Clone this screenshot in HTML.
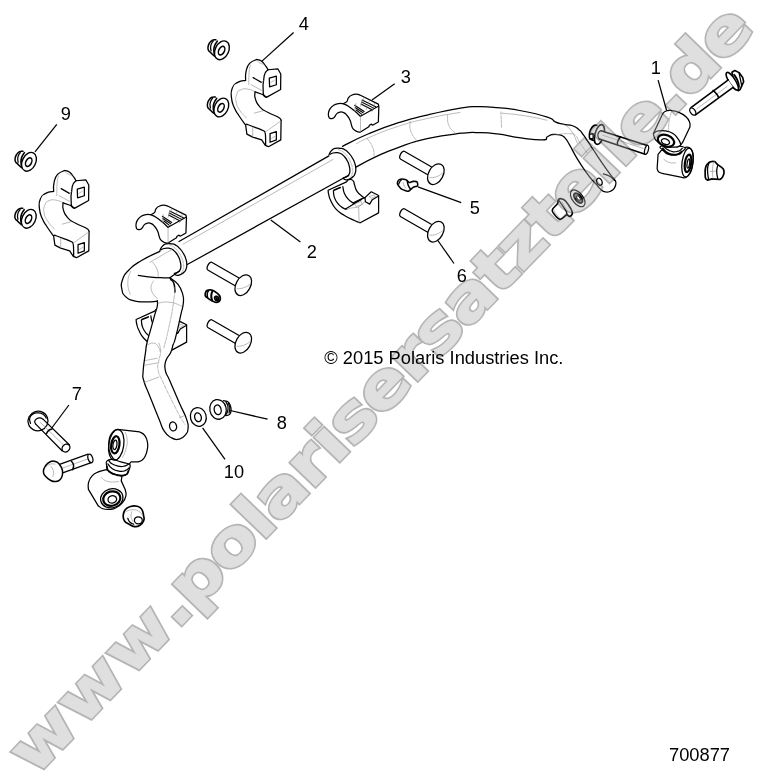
<!DOCTYPE html>
<html lang="de">
<head>
<meta charset="utf-8">
<title>700877</title>
<style>
html,body{margin:0;padding:0;background:#fff;}
body{width:761px;height:775px;overflow:hidden;position:relative;font-family:"Liberation Sans",Arial,sans-serif;}
svg{position:absolute;left:0;top:0;display:block;}
.wm{font-family:"DejaVu Sans","Liberation Sans",sans-serif;font-weight:bold;font-size:70px;fill:#adadad;stroke:#3c3c3c;stroke-width:1.6px;}
.lbl{font-family:"Liberation Sans",Arial,sans-serif;font-size:18.3px;fill:#000;}
.ld{stroke:#000;stroke-width:1.25;fill:none;}
.p{stroke:#000;stroke-width:1.25;fill:#fff;stroke-linejoin:round;stroke-linecap:round;}
.n{stroke:#000;stroke-width:1.25;fill:none;stroke-linejoin:round;stroke-linecap:round;}
.t{stroke:#8c8c8c;stroke-width:.6;fill:none;stroke-linejoin:round;stroke-linecap:round;}
</style>
</head>
<body>
<svg width="761" height="775" viewBox="0 0 761 775" style="filter:grayscale(1)">
<rect width="761" height="775" fill="#fff"/>
<!-- PARTS -->
<g id="parts">
<!-- nut -->
<path class="p" d="M23,151.3 C22.11,151.42 20.76,150.94 19.2,151.8 C17.64,152.66 17.26,153.41 16.3,155 C15.34,156.59 15.29,157.01 15.1,158.6 C14.91,160.19 14.92,160.56 15.5,161.8 C16.08,163.04 16.62,162.92 17.6,163.9 C18.58,164.88 18.79,165.14 19.7,166 C20.61,166.86 21.08,167.23 21.5,167.6" style="stroke-width:1.5"/>
<path class="n" d="M20.2,152.6 C19.51,153.95 18.53,154.19 17.9,157.1 C17.27,160.01 18.04,160.74 18.1,162.3"/>
<path class="n" d="M24.4,152.6 C23.62,153.95 22.82,154.19 21.8,157.1 C20.78,160.01 21,159.48 21,162.3 C21,165.12 21.56,165.24 21.8,166.5" style="stroke-width:1.6"/>
<path class="p" d="M35.02,164.74 A6.7,9.8 26 1 1 22.98,158.86 A6.7,9.8 26 1 1 35.02,164.74 Z" style="stroke-width:1.4"/>
<path class="p" d="M31.22,163.33 A2.8,4.6 26 1 1 26.18,160.87 A2.8,4.6 26 1 1 31.22,163.33 Z" style="stroke-width:1.5"/>
<!-- nut -->
<path class="p" d="M22.8,208.3 C21.91,208.42 20.56,207.94 19,208.8 C17.44,209.66 17.06,210.41 16.1,212 C15.14,213.59 15.09,214.01 14.9,215.6 C14.71,217.19 14.72,217.56 15.3,218.8 C15.88,220.04 16.42,219.92 17.4,220.9 C18.38,221.88 18.59,222.14 19.5,223 C20.41,223.86 20.88,224.23 21.3,224.6" style="stroke-width:1.5"/>
<path class="n" d="M20,209.6 C19.31,210.95 18.33,211.19 17.7,214.1 C17.07,217.01 17.84,217.74 17.9,219.3"/>
<path class="n" d="M24.2,209.6 C23.42,210.95 22.62,211.19 21.6,214.1 C20.58,217.01 20.8,216.48 20.8,219.3 C20.8,222.12 21.36,222.24 21.6,223.5" style="stroke-width:1.6"/>
<path class="p" d="M34.82,221.74 A6.7,9.8 26 1 1 22.78,215.86 A6.7,9.8 26 1 1 34.82,221.74 Z" style="stroke-width:1.4"/>
<path class="p" d="M31.02,220.33 A2.8,4.6 26 1 1 25.98,217.87 A2.8,4.6 26 1 1 31.02,220.33 Z" style="stroke-width:1.5"/>
<!-- clamp -->
<path class="p" d="M53.61,191.31 L54.09,182.33 L57.56,174.44 L64.65,170.5 L69.38,172.08 L73.8,177.12 L76.01,180.75 L85.94,179.96 L88.78,185.01 L88.62,200.46 L74.43,208.34 L70.64,205.51 L63.07,202.83 L63.39,209.92 L67.81,217.81 L75.69,223.32 L85.94,228.06 L89.09,231.21 L88.78,250.92 L76.48,257.7 L73.32,256.44 L69.7,250.92 L60.71,248.08 L54.88,245.09 L53.61,235.94 L47.31,227.27 L42.26,218.59 L39.42,208.34 L40.37,198.88 L45.73,193.36Z" style="stroke:none"/>
<path class="n" d="M53.61,191.31 C53.74,188.92 53.04,186.83 54.09,182.33 C55.14,177.83 54.74,177.6 57.56,174.44 C60.37,171.29 62.76,171.55 64.65,170.5"/>
<path class="n" d="M64.65,170.5 C65.91,170.92 66.94,170.31 69.38,172.08 C71.82,173.84 72.03,174.81 73.8,177.12 C75.56,179.43 75.42,179.78 76.01,180.75"/>
<path class="n" d="M76.01,180.75 L85.94,179.96 L88.78,185.01 L88.62,200.46 L74.43,208.34 L70.64,205.51"/>
<path class="n" d="M76.01,180.75 C75.25,181.92 73.17,181.85 72.22,186.58 C71.27,191.31 70.83,200.05 71.27,204.4 C71.72,208.75 73.8,207.56 74.43,208.34"/>
<path class="n" d="M70.64,205.51 L63.07,202.83"/>
<path class="n" d="M77.27,189.11 L84.36,187.06 L84.36,195.73 L77.58,197.78Z"/>
<path class="t" d="M78.84,193.36 L82.31,191.31"/>
<path class="n" d="M61.18,188.63 L69.38,193.36"/>
<path class="t" d="M69.38,193.36 L72.22,191.31"/>
<path class="t" d="M59.13,195.73 L69.38,201.25"/>
<path class="t" d="M65.44,171.29 C65.7,171.68 65.97,173 67.02,173.65 C68.07,174.31 70.96,174.97 71.75,175.23"/>
<path class="t" d="M58.34,176.02 C58.13,177.2 57.35,179.83 57.08,183.11 C56.82,186.4 56.82,193.63 56.77,195.73"/>
<path class="n" d="M53.61,191.31 C51.25,191.93 49.7,191.09 45.73,193.36 C41.76,195.63 42.26,194.39 40.37,198.88 C38.48,203.38 38.85,202.43 39.42,208.34 C39.99,214.26 39.89,212.92 42.26,218.59 C44.63,224.27 43.9,222.06 47.31,227.27 C50.71,232.47 51.72,233.34 53.61,235.94"/>
<path class="t" d="M63.07,202.83 C60.95,202.02 60.24,200.76 55.98,200.14 C51.72,199.53 52.19,199.36 48.88,200.78 C45.57,202.19 46.36,201.19 44.94,204.88 C43.52,208.57 43.21,208.01 44.15,213.07 C45.1,218.14 45.02,217.02 48.09,221.75 C51.17,226.48 52.51,226.71 54.4,228.84"/>
<path class="n" d="M63.07,202.83 C63.17,204.95 61.97,205.43 63.39,209.92 C64.81,214.42 64.12,213.78 67.81,217.81 C71.5,221.83 70.25,220.25 75.69,223.32 C81.13,226.4 81.92,225.69 85.94,228.06 C89.96,230.42 88.15,230.26 89.09,231.21"/>
<path class="n" d="M53.61,235.94 L54.88,245.09 L60.71,248.08 L69.7,250.92 L73.32,256.44 L76.48,257.7 L88.78,250.92 L89.09,231.21"/>
<path class="n" d="M54.4,235.15 C56.14,235.78 59.76,237.04 63.07,238.3 C66.39,239.57 68.91,240.2 70.96,241.46 C73.01,242.72 72.79,241.62 73.32,244.61 C73.86,247.61 73.58,254.07 73.64,256.44"/>
<path class="t" d="M73.32,243.04 L88.78,232"/>
<path class="t" d="M60.71,238.3 L60.71,247.77"/>
<path class="n" d="M78.06,244.61 L84.36,242.56 L84.36,250.92 L78.06,253.29Z"/>
<path class="t" d="M79.63,249.34 L82.79,247.45"/>
<path class="t" d="M62.29,224.11 L70.96,221.75"/>
<!-- nut -->
<path class="p" d="M215.9,39.8 C215.01,39.92 213.66,39.44 212.1,40.3 C210.54,41.16 210.16,41.91 209.2,43.5 C208.24,45.09 208.19,45.51 208,47.1 C207.81,48.69 207.82,49.06 208.4,50.3 C208.98,51.54 209.52,51.42 210.5,52.4 C211.48,53.38 211.69,53.64 212.6,54.5 C213.51,55.36 213.98,55.73 214.4,56.1" style="stroke-width:1.5"/>
<path class="n" d="M213.1,41.1 C212.41,42.45 211.43,42.69 210.8,45.6 C210.17,48.51 210.94,49.24 211,50.8"/>
<path class="n" d="M217.3,41.1 C216.52,42.45 215.72,42.69 214.7,45.6 C213.68,48.51 213.9,47.98 213.9,50.8 C213.9,53.62 214.46,53.74 214.7,55" style="stroke-width:1.6"/>
<path class="p" d="M227.92,53.24 A6.7,9.8 26 1 1 215.88,47.36 A6.7,9.8 26 1 1 227.92,53.24 Z" style="stroke-width:1.4"/>
<path class="p" d="M224.12,51.83 A2.8,4.6 26 1 1 219.08,49.37 A2.8,4.6 26 1 1 224.12,51.83 Z" style="stroke-width:1.5"/>
<!-- nut -->
<path class="p" d="M215.3,97 C214.41,97.12 213.06,96.64 211.5,97.5 C209.94,98.36 209.56,99.11 208.6,100.7 C207.64,102.29 207.59,102.71 207.4,104.3 C207.21,105.89 207.22,106.26 207.8,107.5 C208.38,108.74 208.92,108.62 209.9,109.6 C210.88,110.58 211.09,110.84 212,111.7 C212.91,112.56 213.38,112.93 213.8,113.3" style="stroke-width:1.5"/>
<path class="n" d="M212.5,98.3 C211.81,99.65 210.83,99.89 210.2,102.8 C209.57,105.71 210.34,106.44 210.4,108"/>
<path class="n" d="M216.7,98.3 C215.92,99.65 215.12,99.89 214.1,102.8 C213.08,105.71 213.3,105.18 213.3,108 C213.3,110.82 213.86,110.94 214.1,112.2" style="stroke-width:1.6"/>
<path class="p" d="M227.32,110.44 A6.7,9.8 26 1 1 215.28,104.56 A6.7,9.8 26 1 1 227.32,110.44 Z" style="stroke-width:1.4"/>
<path class="p" d="M223.52,109.03 A2.8,4.6 26 1 1 218.48,106.57 A2.8,4.6 26 1 1 223.52,109.03 Z" style="stroke-width:1.5"/>
<!-- clamp -->
<path class="p" d="M245.61,80.31 L246.09,71.33 L249.56,63.44 L256.65,59.5 L261.38,61.08 L265.8,66.12 L268.01,69.75 L277.94,68.96 L280.78,74.01 L280.62,89.46 L266.43,97.34 L262.64,94.51 L255.07,91.83 L255.39,98.92 L259.81,106.81 L267.69,112.32 L277.94,117.06 L281.09,120.21 L280.78,139.92 L268.48,146.7 L265.32,145.44 L261.7,139.92 L252.71,137.08 L246.88,134.09 L245.61,124.94 L239.31,116.27 L234.26,107.59 L231.42,97.34 L232.37,87.88 L237.73,82.36Z" style="stroke:none"/>
<path class="n" d="M245.61,80.31 C245.74,77.92 245.04,75.83 246.09,71.33 C247.14,66.83 246.74,66.6 249.56,63.44 C252.37,60.29 254.76,60.55 256.65,59.5"/>
<path class="n" d="M256.65,59.5 C257.91,59.92 258.94,59.31 261.38,61.08 C263.82,62.84 264.03,63.81 265.8,66.12 C267.56,68.43 267.42,68.78 268.01,69.75"/>
<path class="n" d="M268.01,69.75 L277.94,68.96 L280.78,74.01 L280.62,89.46 L266.43,97.34 L262.64,94.51"/>
<path class="n" d="M268.01,69.75 C267.25,70.92 265.17,70.85 264.22,75.58 C263.27,80.31 262.83,89.05 263.27,93.4 C263.72,97.75 265.8,96.56 266.43,97.34"/>
<path class="n" d="M262.64,94.51 L255.07,91.83"/>
<path class="n" d="M269.27,78.11 L276.36,76.06 L276.36,84.73 L269.58,86.78Z"/>
<path class="t" d="M270.84,82.36 L274.31,80.31"/>
<path class="n" d="M253.18,77.63 L261.38,82.36"/>
<path class="t" d="M261.38,82.36 L264.22,80.31"/>
<path class="t" d="M251.13,84.73 L261.38,90.25"/>
<path class="t" d="M257.44,60.29 C257.7,60.68 257.97,62 259.02,62.65 C260.07,63.31 262.96,63.97 263.75,64.23"/>
<path class="t" d="M250.34,65.02 C250.13,66.2 249.35,68.83 249.08,72.11 C248.82,75.4 248.82,82.63 248.77,84.73"/>
<path class="n" d="M245.61,80.31 C243.25,80.93 241.7,80.09 237.73,82.36 C233.76,84.63 234.26,83.39 232.37,87.88 C230.48,92.38 230.85,91.43 231.42,97.34 C231.99,103.26 231.89,101.92 234.26,107.59 C236.63,113.27 235.9,111.06 239.31,116.27 C242.71,121.47 243.72,122.34 245.61,124.94"/>
<path class="t" d="M255.07,91.83 C252.95,91.02 252.24,89.76 247.98,89.14 C243.72,88.53 244.19,88.36 240.88,89.78 C237.57,91.19 238.36,90.19 236.94,93.88 C235.52,97.57 235.21,97.01 236.15,102.07 C237.1,107.14 237.02,106.02 240.09,110.75 C243.17,115.48 244.51,115.71 246.4,117.84"/>
<path class="n" d="M255.07,91.83 C255.17,93.95 253.97,94.43 255.39,98.92 C256.81,103.42 256.12,102.78 259.81,106.81 C263.5,110.83 262.25,109.25 267.69,112.32 C273.13,115.4 273.92,114.69 277.94,117.06 C281.96,119.42 280.15,119.26 281.09,120.21"/>
<path class="n" d="M245.61,124.94 L246.88,134.09 L252.71,137.08 L261.7,139.92 L265.32,145.44 L268.48,146.7 L280.78,139.92 L281.09,120.21"/>
<path class="n" d="M246.4,124.15 C248.14,124.78 251.76,126.04 255.07,127.3 C258.39,128.57 260.91,129.2 262.96,130.46 C265.01,131.72 264.79,130.62 265.32,133.61 C265.86,136.61 265.58,143.07 265.64,145.44"/>
<path class="t" d="M265.32,132.04 L280.78,121"/>
<path class="t" d="M252.71,127.3 L252.71,136.77"/>
<path class="n" d="M270.06,133.61 L276.36,131.56 L276.36,139.92 L270.06,142.29Z"/>
<path class="t" d="M271.63,138.34 L274.79,136.45"/>
<path class="t" d="M254.29,113.11 L262.96,110.75"/>
<!-- bushing lower -->
<path class="p" d="M136.14,319.53 L154.54,311.12 C155.1,310.56 155.24,309.58 156.64,309.02 C158.04,308.46 158.39,308.46 159.79,309.02 C161.2,309.58 161.34,310.56 161.9,311.12 C162.12,312.1 161.9,312.28 162.74,314.8 C163.58,317.32 163.03,317.64 165.05,320.58 C167.07,323.52 168.2,324.16 170.31,325.84 C172.41,327.52 172.23,326.61 172.93,326.89 L179.24,321.11 L186.6,324.79 L186.6,342.13 L168.2,352.12 C166.8,351.56 167.15,351.98 162.95,350.02 C158.74,348.05 157.48,347.84 152.43,344.76 C147.39,341.68 147.67,342.38 144.02,338.45 C140.38,334.53 140.73,333.97 138.77,330.04 C136.81,326.12 137.37,326.54 136.67,323.73 C135.97,320.93 136.28,320.65 136.14,319.53Z"/>
<path class="n" d="M141.4,320.06 C141.68,321.88 141.19,323.38 142.45,326.89 C143.71,330.39 143.74,330.39 146.13,333.2 C148.51,336 149.14,336 151.38,337.4 C153.63,338.8 153.7,338.17 154.54,338.45"/>
<path class="n" d="M150.86,315.85 C151.28,317.67 150.89,319.18 152.43,322.68 C153.98,326.19 154.12,326.33 156.64,328.99 C159.16,331.65 160.49,331.69 161.9,332.67"/>
<path class="n" d="M153.49,338.24 L159.27,334.77 L170.31,327.94 L172.93,326.89"/>
<path class="t" d="M154.54,338.98 L158.74,337.4 L166.63,336.35 L172.93,331.09"/>
<path class="t" d="M166.63,336.35 L167.15,351.07"/>
<path class="n" d="M172.93,326.89 L173.46,331.09 L177.66,333.41 L180.29,328.99 L186.6,325.31"/>
<path class="t" d="M177.66,325.84 L181.87,324.26 L183.45,325.84 L179.77,327.41Z"/>
<path class="t" d="M162.95,333.2 L169.25,330.57 L170.31,333.72 L164.52,335.82Z"/>
<path class="n" d="M141.92,319.53 L148.23,316.9" style="stroke-width:1.6"/>
<path class="n" d="M161.9,332.14 L169.25,328.47" style="stroke-width:1.6"/>
<!-- bar -->
<path class="p" d="M342.52,146.32 C346.47,137.12 354.15,139.82 369.13,133.51 C384.11,127.2 382.93,127.66 398.7,122.67 C414.47,117.67 411.43,118.72 428.27,114.78 C445.1,110.85 448.46,110.06 461.83,107.91 C475.19,105.76 468.92,106.79 478.38,106.73 C487.84,106.66 485.95,106.6 497.31,107.67 C508.66,108.75 507.62,108.24 520.96,110.75 C534.3,113.26 538.21,114.14 547.35,117.1 C556.48,120.05 551.02,119.93 555.23,121.83 C559.43,123.72 558.49,123.14 563.11,124.19 C567.74,125.24 568.37,124.3 572.58,125.77 C576.78,127.24 575.94,127.19 578.88,129.71 C581.83,132.23 579.83,129.97 583.61,135.23 C587.4,140.49 588.03,141.85 593.07,149.42 C598.12,156.99 597.91,156.89 602.54,163.61 C607.16,170.34 607.27,170.45 610.42,174.65 C613.57,178.86 612.89,177.07 614.36,179.38 C615.83,181.7 615.94,181.01 615.94,183.32 C615.94,185.64 615.83,185.95 614.36,188.06 C612.89,190.16 612.73,190.16 610.42,191.21 C608.11,192.26 608.21,192.42 605.69,192 C603.17,191.58 603.48,191.73 600.96,189.63 C598.44,187.53 597.49,185.58 596.23,184.11 C594.97,182.64 597.07,184.95 596.23,184.11 C595.39,183.27 595.6,183.9 593.07,180.96 C590.55,178.02 590.97,178.96 586.77,173.07 C582.56,167.19 581.93,166.45 577.31,158.88 C572.68,151.31 572.79,150.37 569.42,144.69 C566.06,139.01 567.21,140.2 564.69,137.6 C562.17,134.99 563.11,135.76 559.96,134.91 C556.81,134.07 556.23,133.94 552.86,134.44 C549.5,134.95 550.08,135.34 547.35,136.81 C544.61,138.28 549.65,139.66 542.61,139.96 C535.58,140.27 533.04,139.56 520.96,137.95 C508.88,136.34 508.66,135.38 497.31,133.93 C485.95,132.48 487.84,132.7 478.38,132.51 C468.92,132.32 475.19,131.64 461.83,133.22 C448.46,134.8 445.1,134.68 428.27,138.44 C411.43,142.19 412.89,142.31 398.7,147.31 C384.51,152.3 386.87,151.64 375.05,157.16 C363.22,162.68 363.02,170.89 354.35,168 C345.68,165.11 338.58,155.52 342.52,146.32Z" style="stroke:none"/>
<path class="n" d="M342.52,146.32 C349.62,142.9 354.15,139.82 369.13,133.51 C384.11,127.2 382.93,127.66 398.7,122.67 C414.47,117.67 411.43,118.72 428.27,114.78 C445.1,110.85 448.46,110.06 461.83,107.91 C475.19,105.76 468.92,106.79 478.38,106.73 C487.84,106.66 485.95,106.6 497.31,107.67 C508.66,108.75 507.62,108.24 520.96,110.75 C534.3,113.26 538.21,114.14 547.35,117.1 C556.48,120.05 551.02,119.93 555.23,121.83 C559.43,123.72 558.49,123.14 563.11,124.19 C567.74,125.24 568.37,124.3 572.58,125.77 C576.78,127.24 575.94,127.19 578.88,129.71 C581.83,132.23 579.83,129.97 583.61,135.23 C587.4,140.49 588.03,141.85 593.07,149.42 C598.12,156.99 597.91,156.89 602.54,163.61 C607.16,170.34 607.27,170.45 610.42,174.65 C613.57,178.86 612.89,177.07 614.36,179.38 C615.83,181.7 615.94,181.01 615.94,183.32 C615.94,185.64 615.83,185.95 614.36,188.06 C612.89,190.16 612.73,190.16 610.42,191.21 C608.11,192.26 608.21,192.42 605.69,192 C603.17,191.58 603.48,191.73 600.96,189.63 C598.44,187.53 597.49,185.58 596.23,184.11"/>
<path class="n" d="M354.35,168 C359.87,165.11 363.22,162.68 375.05,157.16 C386.87,151.64 384.51,152.3 398.7,147.31 C412.89,142.31 411.43,142.19 428.27,138.44 C445.1,134.68 448.46,134.8 461.83,133.22 C475.19,131.64 468.92,132.32 478.38,132.51 C487.84,132.7 485.95,132.48 497.31,133.93 C508.66,135.38 508.88,136.34 520.96,137.95 C533.04,139.56 535.58,140.27 542.61,139.96 C549.65,139.66 544.61,138.28 547.35,136.81 C550.08,135.34 549.5,134.95 552.86,134.44 C556.23,133.94 556.81,134.07 559.96,134.91 C563.11,135.76 562.17,134.99 564.69,137.6 C567.21,140.2 566.06,139.01 569.42,144.69 C572.79,150.37 572.68,151.31 577.31,158.88 C581.93,166.45 582.56,167.19 586.77,173.07 C590.97,178.96 590.55,178.02 593.07,180.96 C595.6,183.9 595.39,183.27 596.23,184.11"/>
<path class="p" d="M601.83,180.86 A2.6,3.7 -20 1 1 596.94,182.64 A2.6,3.7 -20 1 1 601.83,180.86 Z"/>
<path class="t" d="M356.32,143.76 C360.16,141.87 356.42,142.71 369.13,137.45 C381.85,132.19 380.96,131.95 398.7,126.22 C416.44,120.48 409.88,122.47 428.27,118.33 C446.66,114.19 450.48,114.19 460,112.42"/>
<path class="t" d="M367.16,138.44 C368.82,141.1 370.61,141.98 372.68,147.31 C374.75,152.63 373.65,153.52 374.06,156.18" stroke-dasharray="3 1.2"/>
<path class="t" d="M410.13,121.29 C410.37,124.36 408.73,125.39 410.92,131.54 C413.11,137.69 415.47,138.71 417.42,141.79" stroke-dasharray="3 1.2"/>
<path class="t" d="M447.58,115.37 C448,118.45 446.6,120.3 448.96,125.62 C451.33,130.95 453.52,130.87 455.47,133.11" stroke-dasharray="3 1.2"/>
<path class="t" d="M500.85,111.93 L501.56,127.31" stroke-dasharray="3 1.2"/>
<path class="t" d="M502.04,113.11 C509.13,113.97 512.21,113.82 525.69,115.95 C539.17,118.08 540.59,118.93 546.98,120.21"/>
<path class="t" d="M552.08,135.23 C557.28,134.76 562.33,133.42 569.42,133.65 C576.52,133.89 572.8,133.65 575.73,136.02 C578.66,138.38 575.89,136.57 579.2,141.54 C582.51,146.5 584.5,149.26 586.77,152.58" stroke-dasharray="3 1.2"/>
<path class="n" d="M603.32,173.86 C605.22,174.57 606.18,174.24 609.63,176.23 C613.09,178.22 613.27,179.21 614.84,180.49"/>
<path class="t" d="M563.11,124.19 C565.48,126.08 566.74,124.82 571,130.5 C575.26,136.18 575.41,139.33 577.31,143.11"/>
<path class="p" d="M328.86,155.85 C324.81,148.36 328.86,154.67 329.84,152.9 C330.83,151.12 330.47,151.32 332.14,149.94 C333.82,148.56 333.06,148.79 335.43,148.3 C337.79,147.8 337.27,147.9 340.02,148.3 C342.78,148.69 342.06,148.23 344.62,149.61 C347.19,150.99 346.2,150.33 348.57,152.9 C350.93,155.46 350.64,155 352.51,158.15 C354.38,161.31 353.82,160.26 354.81,163.41 C355.79,166.56 355.7,165.71 355.79,168.67 C355.89,171.62 355.93,170.9 355.14,173.26 C354.35,175.63 354.74,174.87 353.17,176.55 C351.59,178.23 351.85,177.86 349.88,178.85 C347.91,179.84 348.27,179.74 346.6,179.84 C344.92,179.93 345.28,179.77 344.3,179.18 C343.31,178.59 347.94,184.86 343.31,177.86 C338.68,170.87 332.9,163.34 328.86,155.85Z" style="stroke:none"/>
<path class="n" d="M328.86,155.85 C329.15,154.97 328.86,154.67 329.84,152.9 C330.83,151.12 330.47,151.32 332.14,149.94 C333.82,148.56 333.06,148.79 335.43,148.3 C337.79,147.8 337.27,147.9 340.02,148.3 C342.78,148.69 342.06,148.23 344.62,149.61 C347.19,150.99 346.2,150.33 348.57,152.9 C350.93,155.46 350.64,155 352.51,158.15 C354.38,161.31 353.82,160.26 354.81,163.41 C355.79,166.56 355.7,165.71 355.79,168.67 C355.89,171.62 355.93,170.9 355.14,173.26 C354.35,175.63 354.74,174.87 353.17,176.55 C351.59,178.23 351.85,177.86 349.88,178.85 C347.91,179.84 348.27,179.74 346.6,179.84 C344.92,179.93 345.28,179.77 344.3,179.18 C343.31,178.59 343.61,178.26 343.31,177.86"/>
<path class="t" d="M338.05,149.28 C339.43,149.97 339.89,149.51 342.65,151.58 C345.41,153.65 344.89,153.03 347.25,156.18 C349.62,159.34 348.96,158.35 350.54,162.1 C352.11,165.84 352.02,165.12 352.51,168.67 C353,172.21 352.77,171.36 352.18,173.92 C351.59,176.48 351.03,176.22 350.54,177.21" stroke-dasharray="3 1.2"/>
<path class="p" d="M179,241.5 L329.84,154.54 L332.14,153.23 L336.08,152.57 L340.02,153.23 L343.97,156.18 L347.25,160.78 L349.22,166.04 L349.88,171.29 L348.89,174.58 L347.25,176.55 L343.31,177.86 L186.8,264.8Z" style="stroke:none"/>
<path class="n" d="M179,241.5 L328.9,155.9"/>
<path class="n" d="M348.6,175.2 L186.8,264.8"/>
<path class="n" d="M329.84,154.54 C330.53,154.15 330.27,153.82 332.14,153.23 C334.01,152.63 333.72,152.57 336.08,152.57 C338.45,152.57 337.66,152.14 340.02,153.23 C342.39,154.31 341.8,153.92 343.97,156.18 C346.14,158.45 345.68,157.82 347.25,160.78 C348.83,163.74 348.43,162.88 349.22,166.04 C350.01,169.19 349.98,168.73 349.88,171.29 C349.78,173.86 349.68,173 348.89,174.58 C348.11,176.16 348.93,175.56 347.25,176.55 C345.58,177.54 344.49,177.47 343.31,177.86"/>
<path class="t" d="M183,244.2 L333,159.5"/>
<path class="p" d="M159.86,251.35 C155.81,243.86 159.86,250.17 160.84,248.4 C161.83,246.62 161.47,246.82 163.14,245.44 C164.82,244.06 164.06,244.29 166.43,243.8 C168.79,243.3 168.27,243.4 171.02,243.8 C173.78,244.19 173.06,243.73 175.62,245.11 C178.19,246.49 177.2,245.83 179.57,248.4 C181.93,250.96 181.64,250.5 183.51,253.65 C185.38,256.81 184.82,255.76 185.81,258.91 C186.79,262.06 186.7,261.21 186.79,264.17 C186.89,267.12 186.93,266.4 186.14,268.76 C185.35,271.13 185.74,270.37 184.17,272.05 C182.59,273.73 182.85,273.36 180.88,274.35 C178.91,275.34 179.27,275.24 177.6,275.34 C175.92,275.43 176.28,275.27 175.3,274.68 C174.31,274.09 178.94,280.36 174.31,273.36 C169.68,266.37 163.9,258.84 159.86,251.35Z" style="stroke:none"/>
<path class="n" d="M159.86,251.35 C160.15,250.47 159.86,250.17 160.84,248.4 C161.83,246.62 161.47,246.82 163.14,245.44 C164.82,244.06 164.06,244.29 166.43,243.8 C168.79,243.3 168.27,243.4 171.02,243.8 C173.78,244.19 173.06,243.73 175.62,245.11 C178.19,246.49 177.2,245.83 179.57,248.4 C181.93,250.96 181.64,250.5 183.51,253.65 C185.38,256.81 184.82,255.76 185.81,258.91 C186.79,262.06 186.7,261.21 186.79,264.17 C186.89,267.12 186.93,266.4 186.14,268.76 C185.35,271.13 185.74,270.37 184.17,272.05 C182.59,273.73 182.85,273.36 180.88,274.35 C178.91,275.34 179.27,275.24 177.6,275.34 C175.92,275.43 176.28,275.27 175.3,274.68 C174.31,274.09 174.61,273.76 174.31,273.36"/>
<path class="t" d="M169.05,244.78 C170.43,245.47 170.89,245.01 173.65,247.08 C176.41,249.15 175.89,248.53 178.25,251.68 C180.62,254.84 179.96,253.85 181.54,257.6 C183.11,261.34 183.02,260.62 183.51,264.17 C184,267.71 183.77,266.86 183.18,269.42 C182.59,271.98 182.03,271.72 181.54,272.71" stroke-dasharray="3 1.2"/>
<path class="p" d="M159.83,251.35 L141.54,260.5 L128.92,269.96 L122.61,279.42 L121.83,288.88 L125.77,296.77 L133.65,300.71 L144.69,301.97 L157.31,301.18 L169.92,277.84 L174.31,273.36 L178.25,272.05 L179.89,270.08 L180.88,266.79 L180.22,261.54 L178.25,256.28 L174.97,251.68 L171.02,248.73 L167.08,248.07 L163.14,248.73 L160.84,250.04Z" style="stroke:none"/>
<path class="p" d="M157.31,300.71 C153.94,308.28 157.94,302.65 157.31,306.23 C156.68,309.8 156.62,308.23 154.94,314.11 C153.26,320 153.1,320.74 151,328.3 C148.9,335.87 148.53,336.01 147.06,342.5 C145.58,348.98 146.53,344.87 145.48,352.61 C144.43,360.36 143.53,363.97 143.11,371.54 C142.69,379.11 142.22,374.69 143.9,381 C145.58,387.31 145.43,385.1 149.42,395.19 C153.42,405.28 154.89,409.17 158.88,418.84 C162.88,428.52 161.04,426.41 164.4,431.46 C167.77,436.5 167.5,435.75 171.5,437.77 C175.49,439.78 175.6,439.87 179.38,439.03 C183.17,438.19 183.38,437.47 185.69,434.61 C188,431.75 187.84,432.51 188.06,428.3 C188.27,424.1 188.79,425.57 186.48,418.84 C184.17,412.12 183.8,413.17 179.38,403.07 C174.97,392.98 173.71,389.83 169.92,381 C166.14,372.17 166.24,375.43 165.19,369.96 C164.14,364.49 164.51,365.12 165.98,360.5 C167.45,355.87 168.82,356.82 170.71,352.61 C172.6,348.41 172.02,347.85 173.07,344.73 C174.13,341.61 173.39,345.3 174.65,340.92 C175.91,336.54 176.12,335.45 177.81,328.3 C179.49,321.16 179.49,320.84 180.96,314.11 C182.43,307.39 182.9,308.54 183.32,303.07 C183.75,297.61 184.01,298.66 182.54,293.61 C181.06,288.57 181.17,288.36 177.81,284.15 C174.44,279.95 175.39,273.43 169.92,277.84 C164.45,282.26 160.67,293.14 157.31,300.71Z" style="stroke:none"/>
<path class="n" d="M159.83,251.35 C154.34,254.1 150.81,254.92 141.54,260.5 C132.27,266.08 134.6,264.28 128.92,269.96 C123.25,275.64 124.74,273.75 122.61,279.42 C120.49,285.1 120.88,283.68 121.83,288.88 C122.77,294.09 122.22,293.22 125.77,296.77 C129.32,300.32 127.98,299.15 133.65,300.71 C139.33,302.27 137.6,301.83 144.69,301.97 C151.79,302.11 153.52,301.42 157.31,301.18"/>
<path class="n" d="M160.84,250.04 C161.53,249.65 161.27,249.32 163.14,248.73 C165.01,248.13 164.72,248.07 167.08,248.07 C169.45,248.07 168.66,247.64 171.02,248.73 C173.39,249.81 172.8,249.42 174.97,251.68 C177.14,253.95 176.68,253.32 178.25,256.28 C179.83,259.24 179.43,258.38 180.22,261.54 C181.01,264.69 180.98,264.23 180.88,266.79 C180.78,269.36 180.68,268.5 179.89,270.08 C179.11,271.66 179.93,271.06 178.25,272.05 C176.58,273.04 175.49,272.97 174.31,273.36"/>
<path class="n" d="M157.31,300.71 C157.31,302.18 157.94,302.65 157.31,306.23 C156.68,309.8 156.62,308.23 154.94,314.11 C153.26,320 153.1,320.74 151,328.3 C148.9,335.87 148.53,336.01 147.06,342.5 C145.58,348.98 146.53,344.87 145.48,352.61 C144.43,360.36 143.53,363.97 143.11,371.54 C142.69,379.11 142.22,374.69 143.9,381 C145.58,387.31 145.43,385.1 149.42,395.19 C153.42,405.28 154.89,409.17 158.88,418.84 C162.88,428.52 161.04,426.41 164.4,431.46 C167.77,436.5 167.5,435.75 171.5,437.77 C175.49,439.78 175.6,439.87 179.38,439.03 C183.17,438.19 183.38,437.47 185.69,434.61 C188,431.75 187.84,432.51 188.06,428.3 C188.27,424.1 188.79,425.57 186.48,418.84 C184.17,412.12 183.8,413.17 179.38,403.07 C174.97,392.98 173.71,389.83 169.92,381 C166.14,372.17 166.24,375.43 165.19,369.96 C164.14,364.49 164.51,365.12 165.98,360.5 C167.45,355.87 168.82,356.82 170.71,352.61 C172.6,348.41 172.02,347.85 173.07,344.73 C174.13,341.61 173.39,345.3 174.65,340.92 C175.91,336.54 176.12,335.45 177.81,328.3 C179.49,321.16 179.49,320.84 180.96,314.11 C182.43,307.39 182.9,308.54 183.32,303.07 C183.75,297.61 184.01,298.66 182.54,293.61 C181.06,288.57 181.17,288.36 177.81,284.15 C174.44,279.95 172.02,279.53 169.92,277.84"/>
<path class="n" d="M138.38,275.48 C141.75,275.9 144.27,276.43 151,277.06 C157.73,277.69 158.57,277.63 163.61,277.84 C168.66,278.06 168.24,277.84 169.92,277.84"/>
<path class="n" d="M169.92,277.84 L179.57,270.74"/>
<path class="n" d="M170.71,279.42 C171.55,280.47 172.73,280 173.86,283.36 C175,286.73 174.67,289.72 174.97,292.04" style="stroke-width:1.5"/>
<path class="t" d="M150,262.19 L171.68,249.71"/>
<path class="t" d="M130.5,271.54 C129.7,274.85 127.91,275.72 127.82,282.58 C127.72,289.43 129.47,290.85 130.18,294.4"/>
<path class="t" d="M153.36,281 C152.75,283.6 150.13,284.37 151.31,289.67 C152.5,294.97 155.51,295.96 157.31,298.66"/>
<path class="t" d="M152.58,262.08 C153.99,264.44 155.65,265.47 157.31,269.96 C158.96,274.45 157.86,274.93 158.09,277.06"/>
<path class="t" d="M174.65,287.31 C174.27,292.04 175.19,290.78 173.39,303.07 C171.59,315.37 171.59,314.59 168.66,328.3 C165.73,342.02 165.13,342.65 163.61,348.8" stroke-dasharray="3 1.2"/>
<path class="t" d="M158.09,303.07 C161.64,302.84 162.83,301.34 169.92,302.29 C177.02,303.23 178.2,305.05 181.75,306.23"/>
<path class="t" d="M145.48,360.5 L157.31,358.13"/>
<path class="t" d="M144.69,365.23 L158.09,362.86"/>
<path class="t" d="M143.9,382.58 L158.88,377.06"/>
<path class="t" d="M158.88,343.15 C159.39,345.26 160.78,346.41 160.78,351.04 C160.78,355.66 159.6,355.45 158.88,360.5 C158.17,365.55 157.04,364.28 158.09,369.96 C159.15,375.64 158.83,372.96 162.83,381.79 C166.82,390.62 168.24,393.4 173.07,403.07 C177.91,412.75 177.81,412.38 180.96,418.06 C184.11,423.73 183.85,422.68 184.9,424.36" stroke-dasharray="4 1.5"/>
<path class="t" d="M179.38,417.58 L184.43,415.69"/>
<path class="t" d="M147.84,344.73 C149.5,344.26 150.29,342.68 153.36,343.15 C156.44,343.63 156.06,343.71 158.09,346.31 C160.13,348.91 159.53,350.17 160.14,351.83"/>
<path class="p" d="M176.46,425.51 A3.5,4.5 -15 1 1 169.69,427.32 A3.5,4.5 -15 1 1 176.46,425.51 Z"/>
<!-- bushing upper -->
<path class="p" d="M328.94,117.32 C328.8,116.34 328.13,115.88 328.41,113.64 C328.69,111.4 328.59,111.15 329.99,108.91 C331.39,106.67 331.42,106.63 333.67,105.23 C335.91,103.83 335.87,104.07 338.4,103.65 C340.92,103.23 341.87,103.65 343.13,103.65 C344.11,103.09 345.41,103.09 346.81,101.55 C348.21,100.01 347.12,99.55 348.38,97.87 C349.65,96.19 349.43,96.22 351.54,95.24 C353.64,94.26 353.89,94.19 356.27,94.19 C358.65,94.19 359.35,94.96 360.47,95.24 L378.34,104.18 L378.87,106.28 L378.34,122.05 L372.56,125.2 L371.51,124.15 L369.41,125.2 L368.88,126.78 L360.47,132.04 C359.49,131.9 358.76,132.35 356.79,131.51 C354.83,130.67 354.52,130.57 353.11,128.88 C351.71,127.2 352.38,127.59 351.54,125.2 C350.7,122.82 351.22,122.61 349.96,119.95 C348.7,117.28 348.49,117.18 346.81,115.22 C345.12,113.25 345.48,113.43 343.65,112.59 C341.83,111.75 341.8,111.78 339.97,112.06 C338.15,112.34 338.22,112.38 336.82,113.64 C335.42,114.9 335.84,115.53 334.72,116.79 C333.6,118.06 333.88,117.95 332.61,118.37 C331.35,118.79 330.97,118.65 329.99,118.37 C329.01,118.09 329.22,117.6 328.94,117.32Z"/>
<path class="n" d="M343.13,103.65 C344.18,104.18 346.07,104.81 348.38,106.28 C350.7,107.75 352.27,109.01 354.69,111.01 C357.11,113.01 359.32,115.22 360.47,116.27"/>
<path class="n" d="M360.47,116.27 L378.34,106.28"/>
<path class="t" d="M360.47,116.27 L360.47,132.04"/>
<path class="n" d="M362.05,99.97 L375.72,106.81" style="stroke-width:1.1"/>
<path class="n" d="M361.52,102.08 L374.14,108.38" style="stroke-width:1.1"/>
<path class="n" d="M361,103.97 L372.56,109.96" style="stroke-width:1.1"/>
<path class="n" d="M354.69,105.23 L364.15,111.54" style="stroke-width:1.1"/>
<path class="n" d="M355.22,107.54 L363.1,112.8" style="stroke-width:1.1"/>
<path class="n" d="M356.27,109.96 L361.52,114.17" style="stroke-width:1.1"/>
<path class="t" d="M364.15,97.87 L360.47,106.28"/>
<path class="t" d="M369.41,100.5 L366.25,109.43"/>
<path class="t" d="M374.66,103.13 L372.04,111.54"/>
<path class="t" d="M355.74,103.65 L354.69,111.54"/>
<!-- bushing upper -->
<path class="p" d="M136.54,228.32 C136.4,227.34 135.73,226.88 136.01,224.64 C136.29,222.4 136.19,222.15 137.59,219.91 C138.99,217.67 139.02,217.63 141.27,216.23 C143.51,214.83 143.47,215.07 146,214.65 C148.52,214.23 149.47,214.65 150.73,214.65 C151.71,214.09 153.01,214.09 154.41,212.55 C155.81,211.01 154.72,210.55 155.98,208.87 C157.25,207.19 157.03,207.22 159.14,206.24 C161.24,205.26 161.49,205.19 163.87,205.19 C166.25,205.19 166.95,205.96 168.07,206.24 L185.94,215.18 L186.47,217.28 L185.94,233.05 L180.16,236.2 L179.11,235.15 L177.01,236.2 L176.48,237.78 L168.07,243.04 C167.09,242.9 166.36,243.35 164.39,242.51 C162.43,241.67 162.12,241.57 160.71,239.88 C159.31,238.2 159.98,238.59 159.14,236.2 C158.3,233.82 158.82,233.61 157.56,230.95 C156.3,228.28 156.09,228.18 154.41,226.22 C152.72,224.25 153.08,224.43 151.25,223.59 C149.43,222.75 149.4,222.78 147.57,223.06 C145.75,223.34 145.82,223.38 144.42,224.64 C143.02,225.9 143.44,226.53 142.32,227.79 C141.2,229.06 141.48,228.95 140.21,229.37 C138.95,229.79 138.57,229.65 137.59,229.37 C136.61,229.09 136.82,228.6 136.54,228.32Z"/>
<path class="n" d="M150.73,214.65 C151.78,215.18 153.67,215.81 155.98,217.28 C158.3,218.75 159.87,220.01 162.29,222.01 C164.71,224.01 166.92,226.22 168.07,227.27"/>
<path class="n" d="M168.07,227.27 L185.94,217.28"/>
<path class="t" d="M168.07,227.27 L168.07,243.04"/>
<path class="n" d="M169.65,210.97 L183.32,217.81" style="stroke-width:1.1"/>
<path class="n" d="M169.12,213.08 L181.74,219.38" style="stroke-width:1.1"/>
<path class="n" d="M168.6,214.97 L180.16,220.96" style="stroke-width:1.1"/>
<path class="n" d="M162.29,216.23 L171.75,222.54" style="stroke-width:1.1"/>
<path class="n" d="M162.82,218.54 L170.7,223.8" style="stroke-width:1.1"/>
<path class="n" d="M163.87,220.96 L169.12,225.17" style="stroke-width:1.1"/>
<path class="t" d="M171.75,208.87 L168.07,217.28"/>
<path class="t" d="M177.01,211.5 L173.85,220.43"/>
<path class="t" d="M182.26,214.13 L179.64,222.54"/>
<path class="t" d="M163.34,214.65 L162.29,222.54"/>
<!-- bushing lower -->
<path class="p" d="M328.14,190.23 L346.54,181.82 C347.1,181.26 347.24,180.28 348.64,179.72 C350.04,179.16 350.39,179.16 351.79,179.72 C353.2,180.28 353.34,181.26 353.9,181.82 C354.12,182.8 353.9,182.98 354.74,185.5 C355.58,188.02 355.03,188.34 357.05,191.28 C359.07,194.22 360.2,194.86 362.31,196.54 C364.41,198.22 364.23,197.31 364.93,197.59 L371.24,191.81 L378.6,195.49 L378.6,212.83 L360.2,222.82 C358.8,222.26 359.15,222.68 354.95,220.72 C350.74,218.75 349.48,218.54 344.43,215.46 C339.39,212.38 339.67,213.08 336.02,209.15 C332.38,205.23 332.73,204.67 330.77,200.74 C328.81,196.82 329.37,197.24 328.67,194.43 C327.97,191.63 328.28,191.35 328.14,190.23Z"/>
<path class="n" d="M333.4,190.76 C333.68,192.58 333.19,194.08 334.45,197.59 C335.71,201.09 335.74,201.09 338.13,203.9 C340.51,206.7 341.14,206.7 343.38,208.1 C345.63,209.5 345.7,208.87 346.54,209.15"/>
<path class="n" d="M342.86,186.55 C343.28,188.37 342.89,189.88 344.43,193.38 C345.98,196.89 346.12,197.03 348.64,199.69 C351.16,202.35 352.49,202.39 353.9,203.37"/>
<path class="n" d="M345.49,208.94 L351.27,205.47 L362.31,198.64 L364.93,197.59"/>
<path class="t" d="M346.54,209.68 L350.74,208.1 L358.63,207.05 L364.93,201.79"/>
<path class="t" d="M358.63,207.05 L359.15,221.77"/>
<path class="n" d="M364.93,197.59 L365.46,201.79 L369.66,204.11 L372.29,199.69 L378.6,196.01"/>
<path class="t" d="M369.66,196.54 L373.87,194.96 L375.45,196.54 L371.77,198.11Z"/>
<path class="t" d="M354.95,203.9 L361.25,201.27 L362.31,204.42 L356.52,206.52Z"/>
<path class="n" d="M333.92,190.23 L340.23,187.6" style="stroke-width:1.6"/>
<path class="n" d="M353.9,202.84 L361.25,199.17" style="stroke-width:1.6"/>
<!-- bolt6 -->
<path class="p" d="M431.25,166.8 L404.71,151.43 C401.82,149.85 397.88,157.6 400.77,159.31 L427.71,174.68"/>
<path class="p" d="M442.18,177.66 A7.23,10.91 29 1 1 429.53,170.66 A7.23,10.91 29 1 1 442.18,177.66 Z"/>
<path class="t" d="M429.68,177.71 C431.65,177.43 432.31,178.17 436.25,176.79 C440.19,175.41 440.85,174.21 442.82,173.11"/>
<!-- bolt6 -->
<path class="p" d="M431.25,224.3 L404.71,208.93 C401.82,207.35 397.88,215.1 400.77,216.81 L427.71,232.18"/>
<path class="p" d="M442.18,235.16 A7.23,10.91 29 1 1 429.53,228.16 A7.23,10.91 29 1 1 442.18,235.16 Z"/>
<path class="t" d="M429.68,235.21 C431.65,234.93 432.31,235.67 436.25,234.29 C440.19,232.91 440.85,231.71 442.82,230.61"/>
<!-- bolt6 -->
<path class="p" d="M238.65,277.8 L212.11,262.43 C209.22,260.85 205.28,268.6 208.17,270.31 L235.11,285.68"/>
<path class="p" d="M249.58,288.66 A7.23,10.91 29 1 1 236.93,281.66 A7.23,10.91 29 1 1 249.58,288.66 Z"/>
<path class="t" d="M237.08,288.71 C239.05,288.43 239.71,289.17 243.65,287.79 C247.59,286.41 248.25,285.21 250.22,284.11"/>
<!-- bolt6 -->
<path class="p" d="M238.65,335.3 L212.11,319.93 C209.22,318.35 205.28,326.1 208.17,327.81 L235.11,343.18"/>
<path class="p" d="M249.58,346.16 A7.23,10.91 29 1 1 236.93,339.16 A7.23,10.91 29 1 1 249.58,346.16 Z"/>
<path class="t" d="M237.08,346.21 C239.05,345.93 239.71,346.67 243.65,345.29 C247.59,343.91 248.25,342.71 250.22,341.61"/>
<!-- zerk right -->
<path class="p" d="M397.36,183.13 C397.45,182.39 397.88,181.16 398.41,180.51 C398.94,179.85 399.37,179.37 400.51,179.19 C401.65,179.02 404.1,179.19 405.24,179.45 C406.38,179.72 406.73,180.29 407.35,180.77 C407.96,181.25 408.31,182.13 408.92,182.35 C409.54,182.56 410.32,182.26 411.02,182.08 C411.73,181.91 412.25,181.38 413.13,181.29 C414,181.21 415.54,181.25 416.28,181.56 C417.03,181.86 417.42,182.39 417.6,183.13 C417.77,183.88 417.73,185.46 417.33,186.02 C416.94,186.59 415.93,186.33 415.23,186.55 C414.53,186.77 413.83,186.9 413.13,187.34 C412.43,187.78 411.81,188.52 411.02,189.18 C410.24,189.84 409.27,191.02 408.4,191.28 C407.52,191.54 406.82,191.06 405.77,190.76 C404.72,190.45 403.05,189.97 402.09,189.44 C401.13,188.92 400.69,188.35 399.99,187.6 C399.29,186.86 398.32,185.72 397.88,184.97 C397.45,184.23 397.27,183.88 397.36,183.13Z" style="stroke-width:1.5"/>
<path class="n" d="M401.3,179.98 C400.83,180.53 400.51,180.56 399.72,181.82 C398.94,183.08 398.99,183.48 398.67,184.19"/>
<path class="n" d="M407.35,181.03 C407.58,182.21 407.27,182.61 408.13,184.97 C409,187.34 409.61,187.73 410.24,188.92" style="stroke-width:1.5"/>
<path class="t" d="M403.14,182.35 C403.46,183.45 403.4,184.29 404.19,186.02 C404.98,187.76 405.3,187.5 405.77,188.13"/>
<path class="t" d="M412.08,182.61 C412.86,182.53 413.36,182.19 414.7,182.35 C416.04,182.5 415.99,182.9 416.54,183.13"/>
<!-- zerk left -->
<path class="p" d="M205.25,293.92 C205.38,293.09 205.82,291.66 206.3,291.03 C206.78,290.4 207.13,290.27 208.14,290.14 C209.15,290.01 210.86,289.74 212.35,290.24 C213.83,290.74 215.85,292.17 217.08,293.13 C218.3,294.1 219.18,295.02 219.7,296.02 C220.23,297.03 220.36,298.26 220.23,299.18 C220.1,300.1 219.62,301 218.92,301.54 C218.22,302.09 217.12,302.53 216.02,302.44 C214.93,302.35 213.66,301.69 212.35,301.02 C211.03,300.34 209.28,299.22 208.14,298.39 C207,297.56 205.99,296.77 205.51,296.02 C205.03,295.28 205.12,294.75 205.25,293.92Z" style="stroke-width:1.8"/>
<path class="n" d="M208.56,290.66 C208.2,291.48 207.67,291.39 207.35,293.4 C207.04,295.4 207.46,296.16 207.51,297.34" style="stroke-width:1.5"/>
<path class="n" d="M212.61,290.77 C212.21,292.19 211.45,292.66 211.29,295.5 C211.14,298.34 211.85,298.81 212.08,300.23" style="stroke-width:2"/>
<path class="p" d="M218.43,297.74 A1.89,2.1 -20 1 1 214.88,299.04 A1.89,2.1 -20 1 1 218.43,297.74 Z" style="stroke-width:1.8"/>
<path class="n" d="M217.3,298.35 A0.58,0.68 -20 1 1 216.22,298.75 A0.58,0.68 -20 1 1 217.3,298.35 Z"/>
<!-- washer10 -->
<path class="p" d="M205.92,414.91 A7.88,9.46 -15 1 1 190.69,418.99 A7.88,9.46 -15 1 1 205.92,414.91 Z"/>
<path class="p" d="M201.19,416.41 A3.31,4.42 -15 1 1 194.79,418.12 A3.31,4.42 -15 1 1 201.19,416.41 Z" style="stroke-width:1.3"/>
<!-- nut8 -->
<path class="p" d="M223.53,400.71 C224.45,400.89 225.97,400.58 227.48,401.5 C228.99,402.42 229.15,402.81 230,404.65 C230.85,406.49 231.14,407.17 231.1,409.38 C231.07,411.59 231.06,412.64 229.84,414.11 C228.63,415.58 226.82,415.32 225.9,415.69"/>
<path class="n" d="M225.9,401.81 C226.24,402.55 227.69,404.57 227.95,406.23 C228.21,407.88 227.95,410.22 227.48,411.75 C227,413.27 225.51,414.77 225.11,415.37"/>
<path class="n" d="M228.27,403.07 C228.53,403.86 229.71,406.18 229.84,407.81 C229.97,409.43 229.19,412.01 229.05,412.85"/>
<path class="p" d="M226.04,407.68 A8.2,9.78 -12 1 1 210,411.09 A8.2,9.78 -12 1 1 226.04,407.68 Z"/>
<path class="p" d="M221.09,409.13 A3.47,4.73 -12 1 1 214.31,410.58 A3.47,4.73 -12 1 1 221.09,409.13 Z"/>
<!-- bolt7a -->
<path class="p" d="M41.94,418.11 L69.53,445.05 L62.31,450.96 L34.71,422.71Z" style="stroke:none"/>
<path class="p" d="M47.38,417.58 A9.99,9.46 -20 1 1 28.61,424.41 A9.99,9.46 -20 1 1 47.38,417.58 Z"/>
<path class="n" d="M30.51,423.36 C30.27,421.79 29.05,420.87 29.72,418.11 C30.39,415.35 30.26,415.74 32.74,414.17 C35.22,412.59 34.84,412.77 38,412.85 C41.15,412.93 40.77,412.85 43.25,414.43 C45.74,416.01 45.37,417 46.27,418.11"/>
<path class="n" d="M43.25,419.42 L69.53,445.05"/>
<path class="n" d="M36.02,424.42 L62.31,450.96"/>
<path class="t" d="M38.65,420.74 L66.25,447.67"/>
<path class="p" d="M36.02,424.42 C35.63,423.51 34.51,423.09 34.71,421.39 C34.91,419.7 35.11,419.83 36.68,418.76 C38.26,417.7 38,417.65 39.97,417.84 C41.94,418.04 42.27,418.95 43.25,419.42"/>
<path class="p" d="M68.49,450.58 A3.55,4.07 45 1 1 63.48,445.56 A3.55,4.07 45 1 1 68.49,450.58 Z"/>
<path class="n" d="M52.06,428.88 C50.99,429.4 50.16,429.17 48.51,430.59 C46.85,432.01 47.13,432.71 46.54,433.61" style="stroke-width:1.5"/>
<!-- bolt7b -->
<path class="p" d="M60.22,464.17 L88.07,454.18 L91.23,462.59 L63.37,472.58Z" style="stroke:none"/>
<path class="n" d="M60.22,464.17 L88.07,454.18"/>
<path class="n" d="M63.37,472.58 L91.23,462.59"/>
<path class="t" d="M61.79,468.37 L89.13,458.38"/>
<path class="p" d="M92.56,457.59 A2.31,4.42 -20 1 1 88.21,459.17 A2.31,4.42 -20 1 1 92.56,457.59 Z"/>
<path class="n" d="M71.25,461.01 C71.95,462.27 73.19,462.6 73.57,465.22 C73.95,467.83 72.83,468.38 72.52,469.74" style="stroke-width:1.5"/>
<path class="p" d="M43.4,471.52 C43.4,468.72 43.68,468.35 45.5,465.74 C47.32,463.14 47.57,462.87 50.23,461.75 C52.89,460.63 52.96,460.75 55.49,461.54 C58.01,462.32 57.87,462.45 59.69,464.69 C61.51,466.93 61.62,467.14 62.32,469.95 C63.02,472.75 62.88,472.68 62.32,475.2 C61.76,477.73 61.9,477.73 60.22,479.41 C58.53,481.09 58.53,481.23 56.01,481.51 C53.49,481.79 53.56,481.86 50.76,480.46 C47.95,479.06 47.46,478.64 45.5,476.25 C43.54,473.87 43.4,474.33 43.4,471.52Z" style="stroke-width:1.5"/>
<path class="t" d="M46.55,466.79 C47.65,466.01 47.71,464.95 50.23,464.17 C52.75,463.38 53.54,464.17 54.96,464.17"/>
<path class="t" d="M50.76,466.27 C51.54,467.69 52.75,468 53.38,471 C54.01,473.99 53.02,474.68 52.86,476.25"/>
<!-- link lower-left -->
<path class="p" d="M106.14,469.71 C104.21,470.24 102.59,470.11 98.91,471.68 C95.23,473.26 95.07,472.82 92.34,475.62 C89.61,478.43 89.71,478.52 88.66,482.19 C87.61,485.87 88.47,487.49 88.4,489.42 L98.25,505.85 C99.48,506.62 99.87,507.79 102.85,508.74 C105.83,509.68 105.92,509.64 109.42,509.4 C112.93,509.15 112.49,509.64 115.99,507.82 C119.5,506 119.93,505.72 122.56,502.56 C125.19,499.41 125.15,499.5 125.85,495.99 C126.55,492.49 125.37,491.17 125.19,489.42 L121.25,480.88 L121.91,476.28Z"/>
<path class="t" d="M101.54,477.6 C103.51,478.78 102.98,480.35 108.11,481.54 C113.23,482.72 115.47,481.54 118.62,481.54"/>
<path class="n" d="M122.7,495.43 A11.3,9.46 -15 1 1 100.87,501.28 A11.3,9.46 -15 1 1 122.7,495.43 Z"/>
<path class="p" d="M120.16,496.38 A8.67,7.1 -15 1 1 103.41,500.86 A8.67,7.1 -15 1 1 120.16,496.38 Z" style="stroke-width:2.2"/>
<path class="p" d="M116.5,498.29 A4.34,3.55 -15 1 1 108.12,500.53 A4.34,3.55 -15 1 1 116.5,498.29 Z"/>
<path class="p" d="M108.76,459.93 C104.56,461.69 106.62,463.35 106.79,466.5 C106.97,469.66 106.62,469.48 109.42,471.76 C112.23,474.04 113.1,474.17 117.31,475.05 C121.51,475.92 122.21,476.1 125.19,475.05 C128.17,473.99 127.25,474.08 128.48,471.1 C129.7,468.13 131.37,466.86 129.79,463.88 C128.21,460.9 128.17,460.99 122.56,459.93 C116.96,458.88 112.97,458.18 108.76,459.93Z"/>
<path class="n" d="M106.79,466.5 C107.58,468.08 106.27,469.2 109.42,471.76 C112.58,474.32 112.58,474.06 117.31,475.05 C122.04,476.03 121.84,476.23 125.19,475.05 C128.54,473.86 127.49,472.29 128.48,471.1" style="stroke-width:1.7"/>
<path class="n" d="M107.84,463.88 C109.11,465.26 108.82,466.31 112.05,468.48 C115.28,470.64 114.68,470.43 118.62,471.1 C122.56,471.77 122.04,471.7 125.19,470.71 C128.34,469.72 127.95,468.69 129.13,467.82"/>
<path class="n" d="M108.76,460.59 C110.14,461.77 109.22,462.76 113.36,464.53 C117.5,466.31 117.83,466.7 122.56,466.5 C127.29,466.31 127.16,464.66 129.13,463.88"/>
<path class="p" d="M117.57,429.45 L139.65,431.94 C141.05,432.93 142.8,432.72 144.9,435.62 C147,438.53 146.9,439.17 147.53,442.85 C148.16,446.53 147.79,446.09 147.27,449.42 C146.74,452.75 146.89,452.53 145.56,455.34 C144.23,458.14 144.38,458.18 142.27,459.93 C140.17,461.69 138.9,461.38 137.67,461.91 L131.1,461.91 L129.13,463.88 C127.38,463.46 125.65,463.14 122.56,462.3 C119.48,461.46 120.02,461.7 117.57,460.72 C115.12,459.74 115.47,460.93 113.36,458.62 C111.26,456.31 110.91,455.73 109.68,452.05 C108.46,448.37 108.66,449.03 108.76,444.82 C108.87,440.62 108.68,439.96 110.08,436.28 C111.48,432.6 112.02,432.85 114.02,431.02 C116.02,429.2 116.62,429.87 117.57,429.45Z"/>
<path class="n" d="M123.67,445.87 A7.49,15.11 8 1 1 108.84,443.78 A7.49,15.11 8 1 1 123.67,445.87 Z"/>
<path class="p" d="M119.37,445.39 A4.07,8.67 8 1 1 111.3,444.26 A4.07,8.67 8 1 1 119.37,445.39 Z" style="stroke-width:2.2"/>
<path class="p" d="M116.89,445.1 A1.97,4.6 8 1 1 112.99,444.55 A1.97,4.6 8 1 1 116.89,445.1 Z"/>
<path class="t" d="M125.19,432.34 C125.78,434.7 126.96,435.1 127.16,440.22 C127.36,445.35 127.23,444.3 125.85,449.42 C124.47,454.55 123.55,454.94 122.56,457.31"/>
<!-- nut lower-left -->
<path class="p" d="M123.22,515.7 C123.39,512.72 123.26,512.24 125.19,509.79 C127.12,507.34 127.29,507.45 130.45,506.5 C133.6,505.56 134.04,505.54 137.02,506.24 C140,506.94 139.86,506.61 141.62,509.13 C143.37,511.66 143.06,512.55 143.59,515.7 C144.11,518.86 144.64,518.33 143.59,520.96 C142.54,523.59 142.1,524.05 139.65,525.56 C137.19,527.07 137.19,526.96 134.39,526.61 C131.59,526.26 131.76,525.75 129.13,524.24 C126.5,522.74 126.11,523.24 124.53,520.96 C122.96,518.68 123.04,518.68 123.22,515.7Z" style="stroke-width:1.7"/>
<path class="n" d="M142.27,520.3 A3.94,3.55 0 1 1 134.39,520.3 A3.94,3.55 0 1 1 142.27,520.3 Z"/>
<path class="t" d="M125.85,511.76 C127.62,511.17 128.02,509.99 131.76,509.79 C135.51,509.59 135.18,509.53 138.33,511.1 C141.48,512.68 141.09,513.86 142.27,515.05"/>
<path class="n" d="M127.82,518.33 C128.41,519.43 128.02,520.24 129.79,522.01 C131.56,523.78 132.55,523.57 133.73,524.24"/>
<path class="t" d="M131.76,511.76 C131.56,513.34 130.71,514.06 131.1,517.02 C131.5,519.97 132.48,520.24 133.07,521.62"/>
<!-- link right -->
<path class="p" d="M658.07,154.3 L657.12,168.8 C657.67,169.73 657.15,170.93 659.17,172.27 C661.19,173.62 663.22,173.43 664.69,173.85 L682.04,177.48 C683.09,177.48 683.88,178.53 685.98,177.48 C688.08,176.43 688.24,176.27 689.92,173.53 C691.6,170.8 691.36,171.43 692.29,167.23 C693.21,163.02 693.39,162.06 693.39,157.77 C693.39,153.48 693.42,153.88 692.29,151.14 C691.15,148.41 691.24,148.48 689.13,147.52 C687.03,146.55 685.66,147.52 684.4,147.52 L669.42,150.67 L661.54,150.2Z"/>
<path class="n" d="M692.71,163.24 A5.36,14.51 8 1 1 682.09,161.75 A5.36,14.51 8 1 1 692.71,163.24 Z"/>
<path class="p" d="M691.15,163.72 A3.15,8.83 8 1 1 684.91,162.85 A3.15,8.83 8 1 1 691.15,163.72 Z" style="stroke-width:2.2"/>
<path class="n" d="M689.59,163.78 A1.26,4.42 8 1 1 687.1,163.42 A1.26,4.42 8 1 1 689.59,163.78 Z"/>
<path class="t" d="M663.9,159.34 C665.56,160.29 665.87,161.46 669.42,162.5 C672.97,163.54 673.84,162.72 675.73,162.81"/>
<path class="p" d="M662.33,145.94 C657.15,146.99 661.75,148.44 663.43,150.67 C665.11,152.9 665.14,153.16 668.63,154.3 C672.12,155.43 672.94,155.6 676.52,154.93 C680.09,154.25 680.35,153.96 682.04,151.77 C683.72,149.59 688.08,148.28 682.83,146.73 C677.57,145.17 667.5,144.89 662.33,145.94Z"/>
<path class="n" d="M662.8,148.3 C664.31,149.72 663.97,151.14 667.84,153.04 C671.72,154.93 671.57,155.09 675.73,154.61 C679.89,154.14 679.92,152.4 681.72,151.46" style="stroke-width:1.7"/>
<path class="n" d="M663.43,146.41 C665.23,147.69 665.26,149.16 669.42,150.67 C673.58,152.18 673.43,152.17 677.31,151.46 C681.19,150.75 680.84,149.25 682.35,148.3"/>
<path class="p" d="M653.34,133.8 L662.33,114.4 C663.17,113.56 663.17,112.3 665.48,111.25 C667.79,110.2 667.42,110.17 671,110.46 C674.57,110.75 674.89,110.67 678.88,112.35 C682.88,114.03 683.12,114.12 685.98,116.77 C688.84,119.42 688.55,119.55 689.61,122.29 C690.66,125.02 689.84,125.76 689.92,127.02 L682.83,142 C681.77,143.17 681.62,145.07 678.88,146.41 C676.15,147.76 676.57,147.17 672.58,147.04 C668.58,146.92 668.32,147.71 663.9,145.94 C659.49,144.17 658.84,143.66 656.02,140.42 C653.2,137.18 654.05,135.56 653.34,133.8Z"/>
<path class="n" d="M653.65,133.32 C655.07,132.61 654.84,131.67 658.38,130.96 C661.93,130.25 661.22,130.25 665.48,130.96 C669.74,131.67 668.79,130.96 672.58,133.32 C676.36,135.69 675.63,135.53 678.09,138.84 C680.55,142.16 679.97,142.71 680.78,144.36"/>
<path class="p" d="M673.85,143.93 A8.52,5.36 22 1 1 658.06,137.55 A8.52,5.36 22 1 1 673.85,143.93 Z" style="stroke-width:2.2"/>
<path class="p" d="M669.43,143.28 A4.26,2.68 22 1 1 661.53,140.09 A4.26,2.68 22 1 1 669.43,143.28 Z"/>
<path class="t" d="M671.31,112.04 C670.65,114.88 669.91,115.82 669.11,121.5 C668.3,127.17 668.78,128.12 668.63,130.96" stroke-dasharray="3 1.2"/>
<!-- nut right -->
<path class="p" d="M705.16,173.59 C705.27,172.01 704.86,170.3 705.56,167.67 C706.26,165.05 706.39,165.31 707.79,163.73 C709.19,162.16 708.96,162.36 710.81,161.76 C712.67,161.17 713.71,161.57 714.76,161.5 L717.39,164.39 L721.98,167.67 C722.4,168.2 723.04,168.24 723.56,169.65 C724.09,171.05 724.2,171 723.96,172.93 C723.71,174.86 723.69,175.12 722.64,176.87 C721.59,178.62 720.71,178.8 720.01,179.5 L715.41,179.11 L712.13,178.84 L707.53,180.16 C707,179.63 706.19,179.94 705.56,178.19 C704.93,176.43 705.27,174.81 705.16,173.59Z" style="stroke-width:1.7"/>
<path class="n" d="M708.84,163.34 C708.45,165.23 707.61,164.8 707.53,169.65 C707.45,174.49 708.27,176.54 708.58,179.5"/>
<path class="t" d="M714.1,161.76 C713.63,163.73 712.84,163.21 712.52,168.33 C712.21,173.46 712.89,175.69 713.05,178.84"/>
<path class="t" d="M710.16,171.62 L716.73,170.96"/>
<path class="n" d="M717.78,165.05 C717.46,167.02 716.73,167.48 716.73,171.62 C716.73,175.76 717.46,176.68 717.78,178.84"/>
<!-- bolt upper right -->
<path class="p" d="M731.99,72.29 L734.82,70.5 L739.03,72.6 L742.71,77.54 L743.65,81.75 L741.76,85.95 L740.08,89.63 L738.29,90.79 L733.56,84.69Z" style="stroke-width:1.6"/>
<path class="n" d="M739.03,72.6 L739.87,76.81 L741.76,85.95"/>
<path class="p" d="M734.95,79.61 A3.15,10.3 -33 1 1 729.66,83.04 A3.15,10.3 -33 1 1 734.95,79.61 Z" style="stroke-width:1.6"/>
<path class="n" d="M734.09,74.7 C735.13,76.44 736.07,76.86 737.56,80.49 C739.04,84.11 738.59,84.9 739.03,86.79" style="stroke-width:1.8"/>
<path class="p" d="M690.99,107.61 L728.31,79.96 L733.04,87.32 L695.51,114.97Z" style="stroke:none"/>
<path class="n" d="M690.99,107.61 L728.31,79.96" style="stroke-width:1.6"/>
<path class="n" d="M695.51,114.97 L733.04,87.32" style="stroke-width:1.6"/>
<path class="t" d="M696.77,108.87 L727.25,86.27"/>
<path class="p" d="M694.82,110.02 A2.52,3.99 -36 1 1 690.73,112.98 A2.52,3.99 -36 1 1 694.82,110.02 Z"/>
<path class="n" d="M713.06,90.47 C714.17,91.58 715.17,92.2 716.74,94.15 C718.32,96.11 717.85,96.14 718.32,96.99" style="stroke-width:1.6"/>
<!-- bolt left of link -->
<path class="p" d="M596.82,125.23 C596.08,125.35 595.14,124.65 593.67,125.76 C592.19,126.86 591.49,127.88 590.51,129.96 C589.53,132.05 589.58,132.61 589.46,134.69 C589.34,136.78 589.01,137.55 589.99,138.9 C590.97,140.25 592.32,139.49 593.67,140.47 C595.02,141.45 595.28,142.49 595.77,143.1" style="stroke-width:1.6"/>
<path class="n" d="M589.46,134.48 L593.14,133.64 L593.14,138.37 L589.99,138.9"/>
<path class="p" d="M603.71,135.62 A4.42,9.67 15 1 1 595.18,133.34 A4.42,9.67 15 1 1 603.71,135.62 Z" style="stroke-width:1.6"/>
<path class="p" d="M601.02,130.7 L647.28,145.41 L645.18,154.14 L599.45,139.11Z" style="stroke:none"/>
<path class="n" d="M599.45,139.11 C598.98,138.1 598.03,137.86 597.87,135.74 C597.71,133.63 597.98,133.58 598.92,132.06 C599.87,130.55 600.39,131.11 601.02,130.7"/>
<path class="n" d="M601.02,130.7 L647.28,145.41" style="stroke-width:1.6"/>
<path class="n" d="M599.45,139.11 L645.18,154.14" style="stroke-width:1.6"/>
<path class="t" d="M602.6,135.22 L643.07,148.36"/>
<path class="p" d="M648.27,150.29 A1.79,4.42 15 1 1 644.82,149.37 A1.79,4.42 15 1 1 648.27,150.29 Z"/>
<path class="n" d="M620.47,136.79 C619.75,137.9 619,138.2 618.06,140.47 C617.11,142.74 617.54,143.2 617.32,144.36" style="stroke-width:1.6"/>
<!-- washer/nut arm end -->
<path class="p" d="M581.92,195.05 A5.34,9.38 -38 1 1 573.51,201.62 A5.34,9.38 -38 1 1 581.92,195.05 Z"/>
<path class="p" d="M580.57,196.19 A3.04,5.52 -38 1 1 575.78,199.92 A3.04,5.52 -38 1 1 580.57,196.19 Z" style="stroke-width:1.8;fill:#777"/>
<path class="p" d="M579.46,197.26 A1.29,2.76 -38 1 1 577.43,198.85 A1.29,2.76 -38 1 1 579.46,197.26 Z" style="stroke-width:0.6"/>
<path class="p" d="M552.42,209.55 C551.68,211.58 552.79,212.04 553.8,213.69 C554.81,215.35 556.19,216.73 557.48,217.83 C558.76,218.94 559.13,219.21 560.24,219.21 C561.34,219.21 561.71,218.66 563,217.83 C564.28,217 565.39,215.35 566.68,215.07 C567.96,214.8 568.33,216.64 569.43,216.45 C570.54,216.27 571.73,215.35 572.19,214.15 C572.65,212.96 572.47,212.31 571.73,210.47 C571,208.63 569.89,206.98 568.52,204.95 C567.14,202.93 566.31,201.61 564.84,200.35 C563.36,199.1 562.44,198.85 561.16,198.7 C559.87,198.55 559.13,198.64 558.4,199.62 C557.66,200.59 558.67,201.59 557.48,203.57 C556.28,205.56 553.15,207.53 552.42,209.55Z" style="stroke-width:1.6"/>
<path class="n" d="M558.4,199.89 C559.5,201.41 559.87,201.78 562.08,204.95 C564.28,208.13 564.24,207.44 565.76,210.47 C567.27,213.51 566.72,213.69 567.14,215.07"/>
<path class="t" d="M553.8,209.55 C554.49,210.93 554.3,211.67 556.1,214.15 C557.89,216.64 558.67,216.73 559.78,217.83"/>
<path class="t" d="M562.08,202.19 C562.9,203.57 563.18,204.03 564.84,206.79 C566.49,209.55 566.77,210.01 567.6,211.39"/>
</g><!--/parts-->
<!-- WATERMARK -->
<g id="wm" transform="translate(34.24,777.79) rotate(-46.00) scale(1.1474,1)" opacity="0.38">
<text class="wm" x="0.8 60.7 120.6 178.7 200.5 243.8 286.1 306.6 347.9 378.3 399.0 434.8 476.1 506.3 542.3 582.9 611.8 647.3 675.3 716.6 737.5 757.7 798.5 820.3 863.2" style="font-size:63px;stroke:#3c3c3c;stroke-width:3.8px" aria-hidden="true">www.polarisersatzteile.de</text>
<text class="wm" x="0.8 60.7 120.6 178.7 200.5 243.8 286.1 306.6 347.9 378.3 399.0 434.8 476.1 506.3 542.3 582.9 611.8 647.3 675.3 716.6 737.5 757.7 798.5 820.3 863.2" style="font-size:63px;stroke:#adadad;stroke-width:0.6px">www.polarisersatzteile.de</text>
</g>
<!-- LEADERS -->
<g id="leaders">
<path class="ld" d="M56.8,124.4 L35,151.8"/>
<path class="ld" d="M293.6,32.5 L262,61.1"/>
<path class="ld" d="M394.7,83.7 L372,100"/>
<path class="ld" d="M417.9,186.9 L461.2,202.7"/>
<path class="ld" d="M68.9,405 L51.8,428"/>
<path class="ld" d="M658.1,80.2 L666.6,110.5"/>
<path class="ld" d="M270.8,219.9 L300.4,242"/>
<path class="ld" d="M437.5,240 L454,263.5"/>
<path class="ld" d="M230.2,410.5 L267.6,419.2"/>
<path class="ld" d="M202.6,427.9 L225,459.4"/>
</g><!--/leaders-->
<!-- LABELS -->
<g id="labels" opacity="0.999">
<text class="lbl" transform="translate(650.8,74.4) scale(0.95,1)" style="font-size:19.2px">1</text>
<text class="lbl" transform="translate(306.8,258.4) scale(0.95,1)" style="font-size:19.2px">2</text>
<text class="lbl" transform="translate(400.8,83.4) scale(0.95,1)" style="font-size:19.2px">3</text>
<text class="lbl" transform="translate(298.8,30.4) scale(0.95,1)" style="font-size:19.2px">4</text>
<text class="lbl" transform="translate(469.8,214.4) scale(0.95,1)" style="font-size:19.2px">5</text>
<text class="lbl" transform="translate(456.8,282.4) scale(0.95,1)" style="font-size:19.2px">6</text>
<text class="lbl" transform="translate(71.8,400.4) scale(0.95,1)" style="font-size:19.2px">7</text>
<text class="lbl" transform="translate(276.8,429.4) scale(0.95,1)" style="font-size:19.2px">8</text>
<text class="lbl" transform="translate(60.8,120.4) scale(0.95,1)" style="font-size:19.2px">9</text>
<text class="lbl" transform="translate(223.8,478.4) scale(0.95,1)" style="font-size:19.2px">10</text>
<text class="lbl" x="324.3" y="363.6">© 2015 Polaris Industries Inc.</text>
<text class="lbl" x="669" y="761">700877</text>
</g>
</svg>
</body>
</html>
